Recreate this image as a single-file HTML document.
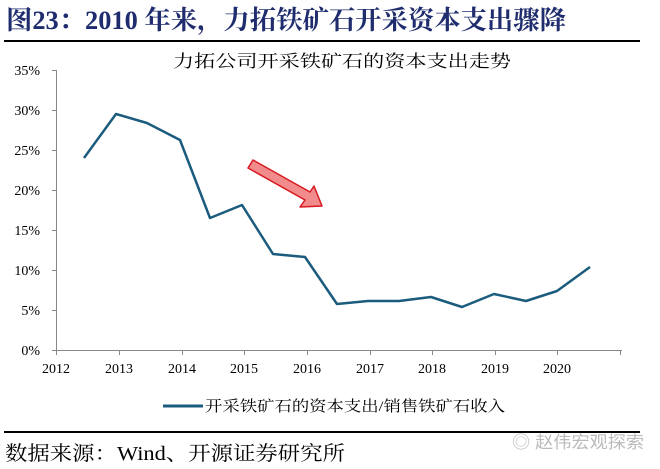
<!DOCTYPE html>
<html><head><meta charset="utf-8"><style>
body{margin:0;background:#fff;}
svg{display:block;font-family:"Liberation Serif","Noto Serif CJK SC",serif;}
</style></head><body>
<svg width="660" height="469" viewBox="0 0 660 469">
<text x="6" y="29" font-size="26" font-weight="bold" fill="#1f2d6e" textLength="560" lengthAdjust="spacingAndGlyphs">图23：2010 年来，力拓铁矿石开采资本支出骤降</text>
<line x1="4" y1="41" x2="640" y2="41" stroke="#000" stroke-width="2"/>
<text x="173" y="67" font-size="17" fill="#000" textLength="338" lengthAdjust="spacingAndGlyphs">力拓公司开采铁矿石的资本支出走势</text>
<g font-size="14" fill="#000" text-anchor="end">
<text x="40" y="75">35%</text><text x="40" y="115">30%</text><text x="40" y="155">25%</text><text x="40" y="195">20%</text><text x="40" y="235">15%</text><text x="40" y="275">10%</text><text x="40" y="315">5%</text><text x="40" y="355">0%</text>
</g>
<g stroke="#888" stroke-width="1">
<line x1="56.5" y1="70" x2="56.5" y2="350"/>
<line x1="52" y1="70.5" x2="56" y2="70.5"/><line x1="52" y1="110.5" x2="56" y2="110.5"/><line x1="52" y1="150.5" x2="56" y2="150.5"/><line x1="52" y1="190.5" x2="56" y2="190.5"/><line x1="52" y1="230.5" x2="56" y2="230.5"/><line x1="52" y1="270.5" x2="56" y2="270.5"/><line x1="52" y1="310.5" x2="56" y2="310.5"/>
<line x1="52" y1="350.5" x2="622" y2="350.5"/>
<line x1="56.5" y1="350" x2="56.5" y2="355"/><line x1="119.5" y1="350" x2="119.5" y2="355"/><line x1="182.5" y1="350" x2="182.5" y2="355"/><line x1="244.5" y1="350" x2="244.5" y2="355"/><line x1="307.5" y1="350" x2="307.5" y2="355"/><line x1="370.5" y1="350" x2="370.5" y2="355"/><line x1="432.5" y1="350" x2="432.5" y2="355"/><line x1="495.5" y1="350" x2="495.5" y2="355"/><line x1="557.5" y1="350" x2="557.5" y2="355"/><line x1="620.5" y1="350" x2="620.5" y2="355"/>
</g>
<g font-size="14" fill="#000" text-anchor="middle">
<text x="56" y="373">2012</text><text x="119" y="373">2013</text><text x="182" y="373">2014</text><text x="244" y="373">2015</text><text x="307" y="373">2016</text><text x="370" y="373">2017</text><text x="432" y="373">2018</text><text x="495" y="373">2019</text><text x="557" y="373">2020</text>
</g>
<polyline fill="none" stroke="#1b5c7e" stroke-width="2.5" stroke-linejoin="round" points="84,158 116,114 147,123 180,140 210,218 242,205 273,254 305,257 337,304 368,301 399,301 431,297 462,307 494,294 526,301 557,291 590,267"/>
<polygon points="253,160 310,192 314,186 322,206 300,207 305,200 248,168" fill="#f28b8b" stroke="#d71920" stroke-width="1.5" stroke-linejoin="round"/>
<line x1="163" y1="406" x2="203" y2="406" stroke="#1b5c7e" stroke-width="3"/>
<text x="205" y="411" font-size="15" fill="#000" textLength="300" lengthAdjust="spacingAndGlyphs">开采铁矿石的资本支出/销售铁矿石收入</text>
<line x1="4" y1="432" x2="640" y2="432" stroke="#000" stroke-width="2"/>
<text x="5" y="460" font-size="20" fill="#000" textLength="340" lengthAdjust="spacingAndGlyphs">数据来源：Wind、开源证券研究所</text>
<text x="512" y="448" font-size="17" fill="#bbb" font-family="Liberation Sans,'Noto Sans CJK SC',sans-serif" textLength="132" lengthAdjust="spacingAndGlyphs">◎ 赵伟宏观探索</text>
</svg>
</body></html>
